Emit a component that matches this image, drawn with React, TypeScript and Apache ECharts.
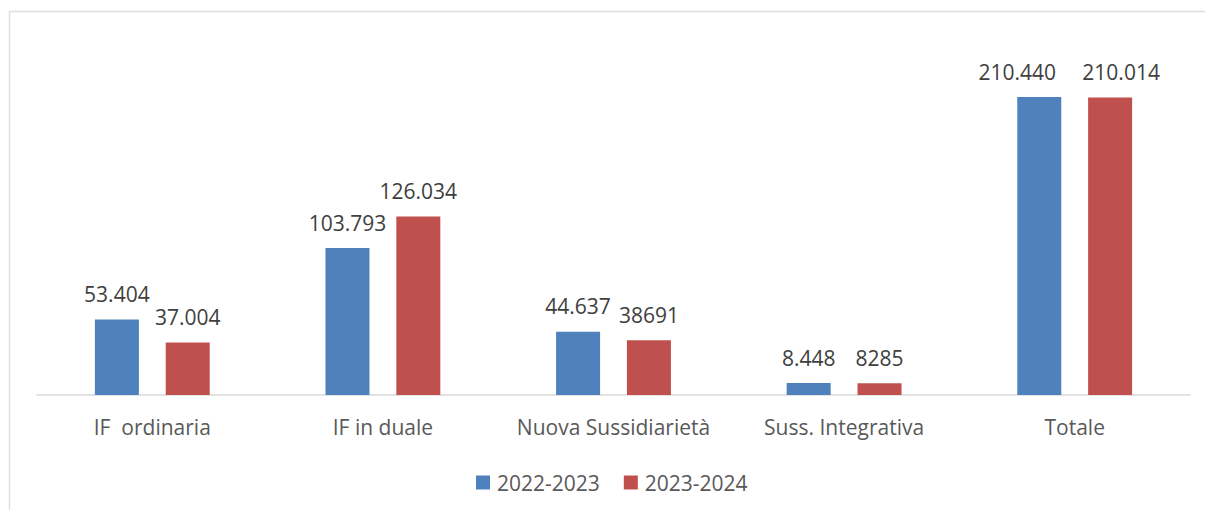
import React, { useEffect, useRef } from "react";
import * as echarts from "echarts";

const categories = ["IF  ordinaria", "IF in duale", "Nuova Sussidiarietà", "Suss. Integrativa", "Totale"];
const seriesNames = ["2022-2023", "2023-2024"];
const values2022 = [53404, 103793, 44637, 8448, 210440];
const values2023 = [37004, 126034, 38691, 8285, 210014];
const labels2022 = ["53.404", "103.793", "44.637", "8.448", "210.440"];
const labels2023 = ["37.004", "126.034", "38691", "8285", "210.014"];

const FONT = "'Open Sans', 'Noto Sans', sans-serif";

export default function App() {
  const ref = useRef<HTMLDivElement>(null);
  useEffect(() => {
    if (!ref.current) return;
    const chart = echarts.init(ref.current, undefined, { renderer: "svg" });
    const mkLabel = (labels: string[]) => ({
      show: true,
      position: "top" as const,
      distance: 15,
      color: "#404040",
      fontSize: 21,
      fontFamily: FONT,
      formatter: (p: any) => labels[p.dataIndex],
    });
    const lastIdx = categories.length - 1;
    const data2022 = values2022.map((v, i) =>
      i === lastIdx ? { value: v, label: { offset: [-22, 0] } } : v
    );
    const data2023 = values2023.map((v, i) =>
      i === lastIdx ? { value: v, label: { offset: [11, 0] } } : v
    );
    chart.setOption({
      animation: false,
      backgroundColor: "#ffffff",
      textStyle: { fontFamily: FONT },
      graphic: [
        { type: "line", shape: { x1: 9, y1: 11.5, x2: 1205, y2: 11.5 }, style: { stroke: "#dedede", lineWidth: 1.5 }, silent: true },
        { type: "line", shape: { x1: 9.5, y1: 11, x2: 9.5, y2: 510 }, style: { stroke: "#dedede", lineWidth: 1.5 }, silent: true },
      ],
      grid: { left: 37, right: 15, top: 41, bottom: 115, containLabel: false },
      legend: {
        data: seriesNames,
        top: 467,
        left: 471,
        icon: "rect",
        itemWidth: 14,
        itemHeight: 14,
        itemGap: 24,
        textStyle: { color: "#595959", fontSize: 21, fontFamily: FONT, padding: [0, 0, 0, 2] },
      },
      xAxis: {
        type: "category",
        data: categories,
        axisLine: { lineStyle: { color: "#d9d9d9", width: 1.5 } },
        axisTick: { show: false },
        axisLabel: { color: "#595959", fontSize: 21, fontFamily: FONT, margin: 21, interval: 0 },
      },
      yAxis: {
        type: "value",
        min: 0,
        max: 250000,
        show: false,
        splitLine: { show: false },
      },
      series: [
        {
          name: seriesNames[0],
          type: "bar",
          data: data2022,
          barWidth: 44,
          barGap: "61%",
          itemStyle: { color: "#4f81bd" },
          label: mkLabel(labels2022),
        },
        {
          name: seriesNames[1],
          type: "bar",
          data: data2023,
          barWidth: 44,
          barGap: "61%",
          itemStyle: { color: "#c0504d" },
          label: mkLabel(labels2023),
        },
      ],
    });
    return () => chart.dispose();
  }, []);
  return (
    <div
      ref={ref}
      style={{ position: "absolute", left: 0, top: 0, width: 1205, height: 510 }}
    />
  );
}
